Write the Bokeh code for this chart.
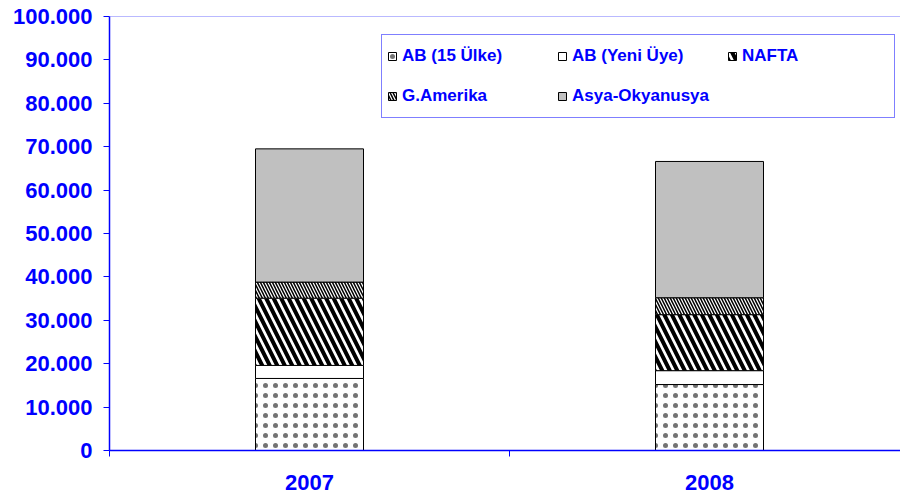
from bokeh.plotting import figure
from bokeh.models import (Range1d, FixedTicker, Legend, LegendItem, Span,
                          ColumnDataSource)
from bokeh.embed import file_html
from bokeh.resources import INLINE

# ---- data ----
years = ["2007", "2008"]
regions = ["AB (15 Ülke)", "AB (Yeni Üye)", "NAFTA", "G.Amerika", "Asya-Okyanusya"]
ab15 = [16600, 15200]
ab_yeni = [3000, 3200]
nafta = [15500, 12900]
g_amerika = [3700, 3900]
asya = [30700, 31400]
y_ticks = [0, 10000, 20000, 30000, 40000, 50000, 60000, 70000, 80000, 90000, 100000]
y_tick_labels = ["0", "10.000", "20.000", "30.000", "40.000", "50.000",
                 "60.000", "70.000", "80.000", "90.000", "100.000"]

BLUE = "#0000FF"
FONT = "Liberation Sans"

xs = [i + 0.5 for i in range(len(years))]
bounds = [float(i) for i in range(len(years) + 1)]
keys = ["ab15", "ab_yeni", "nafta", "g_amerika", "asya"]
source = ColumnDataSource(dict(x=xs, ab15=ab15, ab_yeni=ab_yeni, nafta=nafta,
                               g_amerika=g_amerika, asya=asya))

p = figure(width=900, height=499, x_range=Range1d(0, 1.9775), y_range=Range1d(0, 100000),
           output_backend="svg", toolbar_location=None,
           min_border_left=109, min_border_top=16, min_border_bottom=49, min_border_right=0)
p.outline_line_color = None
p.xgrid.visible = False
p.ygrid.visible = False
p.background_fill_color = "white"

renderers = p.vbar_stack(
    keys, x="x", width=0.27, source=source,
    fill_color=["white", "white", "white", "white", "#C0C0C0"],
    line_color="black", line_width=1,
    hatch_pattern=[".", " ", "\\", "\\", " "],
    hatch_color="black",
    hatch_scale=[10, 12, 15, 6, 12],
    hatch_weight=[0.2, 1, 4, 1.5, 1],
    hatch_alpha=[0.55, 1, 1, 1, 1],
)

p.add_layout(Span(location=100000, dimension="width", line_color=BLUE,
                  line_alpha=0.55, line_width=1))

# x axis
xa = p.xaxis[0]
xa.ticker = FixedTicker(ticks=xs, minor_ticks=bounds)
xa.major_label_overrides = {x: y for x, y in zip(xs, years)}
xa.axis_line_color = BLUE
xa.axis_line_width = 1.5
xa.major_tick_out = 0
xa.major_tick_in = 0
xa.major_tick_line_color = None
xa.minor_tick_out = 6
xa.minor_tick_in = 0
xa.minor_tick_line_color = BLUE
xa.major_label_text_font = FONT
xa.major_label_text_font_style = "bold"
xa.major_label_text_font_size = "22px"
xa.major_label_text_color = BLUE
xa.major_label_standoff = 18

# y axis
ya = p.yaxis[0]
ya.ticker = FixedTicker(ticks=y_ticks, minor_ticks=[])
ya.major_label_overrides = {t: l for t, l in zip(y_ticks, y_tick_labels)}
ya.axis_line_color = BLUE
ya.axis_line_width = 1.5
ya.major_tick_out = 6
ya.major_tick_in = 0
ya.major_tick_line_color = BLUE
ya.minor_tick_line_color = None
ya.major_label_text_font = FONT
ya.major_label_text_font_style = "bold"
ya.major_label_text_font_size = "22px"
ya.major_label_text_color = BLUE
ya.major_label_standoff = 11

# legend laid out row by row (Bokeh fills columns first)
ncols = 3
order = []
nrows = -(-len(regions) // ncols)
for c in range(ncols):
    for r in range(nrows):
        i = r * ncols + c
        if i < len(regions):
            order.append(i)
items = [LegendItem(label=regions[i], renderers=[renderers[i]]) for i in order]
legend = Legend(items=items, ncols=ncols, nrows=nrows, location=(272, 332),
                border_line_color=BLUE, border_line_width=1,
                background_fill_color="white", background_fill_alpha=1,
                padding=5, spacing=8, margin=0,
                glyph_width=10, glyph_height=10, label_standoff=5,
                label_width=147, label_height=32,
                label_text_font=FONT, label_text_font_style="bold",
                label_text_font_size="17px", label_text_color=BLUE)
p.add_layout(legend)

open("out.html", "w").write(file_html(p, INLINE))
